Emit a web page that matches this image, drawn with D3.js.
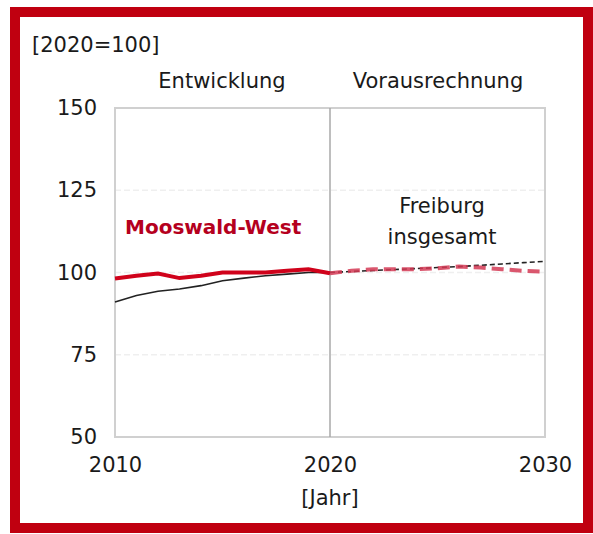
<!DOCTYPE html>
<html><head><meta charset="utf-8">
<script src="https://cdn.jsdelivr.net/npm/d3@7"></script>
<style>body{margin:0;background:#fff}svg{display:block}text{font-family:"DejaVu Sans",sans-serif}</style>
</head><body><svg id="c" width="593" height="534"></svg>
<script>
const histYears = [2010,2011,2012,2013,2014,2015,2016,2017,2018,2019,2020];
const mooswaldHist = [98.2,99,99.7,98.3,99,100,100,100,100.5,101,99.8];
const freiburgHist = [91,93,94.3,95,96,97.5,98.3,99,99.5,100,100];
const projYears = [2020,2021,2022,2023,2024,2025,2026,2027,2028,2029,2030];
const mooswaldProj = [99.8,100.5,101,101,101,101.3,101.8,101.5,101,100.5,100.2];
const freiburgProj = [100,100.3,100.6,100.9,101.2,101.5,101.8,102.2,102.6,103,103.4];
const yTicks = [50,75,100,125,150];
const xTicks = [2010,2020,2030];

const svg = d3.select("#c");
svg.append("rect").attr("x",15).attr("y",12).attr("width",573).attr("height",516)
  .attr("fill","none").attr("stroke","#c00010").attr("stroke-width",10);

const x = d3.scaleLinear().domain([2010,2030]).range([115,545]);
const y = d3.scaleLinear().domain([50,150]).range([437,108]);

svg.append("g").selectAll("line").data([75,100,125]).join("line")
  .attr("x1",x(2010)).attr("x2",x(2030)).attr("y1",d=>y(d)).attr("y2",d=>y(d))
  .attr("stroke","#efefef").attr("stroke-width",1.5).attr("stroke-dasharray","6,3");
svg.append("rect").attr("x",x(2010)).attr("y",y(150)).attr("width",x(2030)-x(2010)).attr("height",y(50)-y(150))
  .attr("fill","none").attr("stroke","#d0d0d0").attr("stroke-width",2);
svg.append("line").attr("x1",x(2020)).attr("x2",x(2020)).attr("y1",y(150)).attr("y2",y(50))
  .attr("stroke","#a8a8a8").attr("stroke-width",1.5);

const yAxis = svg.append("g").attr("transform",`translate(${x(2010)},0)`)
  .call(d3.axisLeft(y).tickValues(yTicks).tickSize(0).tickPadding(18));
const xAxis = svg.append("g").attr("transform",`translate(0,${y(50)})`)
  .call(d3.axisBottom(x).tickValues(xTicks).tickFormat(d3.format("d")).tickSize(0).tickPadding(20));
[yAxis,xAxis].forEach(a=>{a.select(".domain").remove();
  a.selectAll("text").attr("font-size",21).attr("fill","#1a1a1a").style("font-family","'DejaVu Sans',sans-serif");});

const line = d3.line().x(d=>x(d[0])).y(d=>y(d[1]));
const z = (a,b)=>a.map((v,i)=>[v,b[i]]);
svg.append("path").datum(z(histYears,freiburgHist)).attr("d",line)
  .attr("fill","none").attr("stroke","#222").attr("stroke-width",1.6);
svg.append("path").datum(z(histYears,mooswaldHist)).attr("d",line)
  .attr("fill","none").attr("stroke","#d0021b").attr("stroke-width",4);
svg.append("path").datum(z(projYears,freiburgProj)).attr("d",line)
  .attr("fill","none").attr("stroke","#222").attr("stroke-width",1.6).attr("stroke-dasharray","5,3");
svg.append("path").datum(z(projYears,mooswaldProj)).attr("d",line)
  .attr("fill","none").attr("stroke","#d43a55").attr("stroke-width",4).attr("stroke-dasharray","12,6").attr("opacity",0.85);

const t = (s,xx,yy,opt={})=>svg.append("text").attr("x",xx).attr("y",yy).text(s)
  .attr("font-size",opt.size||21).attr("fill",opt.fill||"#1a1a1a")
  .attr("text-anchor",opt.anchor||"start").attr("font-weight",opt.weight||"normal");
t("[2020=100]",32,52);
t("Entwicklung",222,88,{anchor:"middle"});
t("Vorausrechnung",438,88,{anchor:"middle"});
t("Mooswald-West",125,234,{size:20,weight:"bold",fill:"#b5001e"});
t("Freiburg",442,213,{anchor:"middle"});
t("insgesamt",442,244,{anchor:"middle"});
t("[Jahr]",330,505,{anchor:"middle"});
</script></body></html>
